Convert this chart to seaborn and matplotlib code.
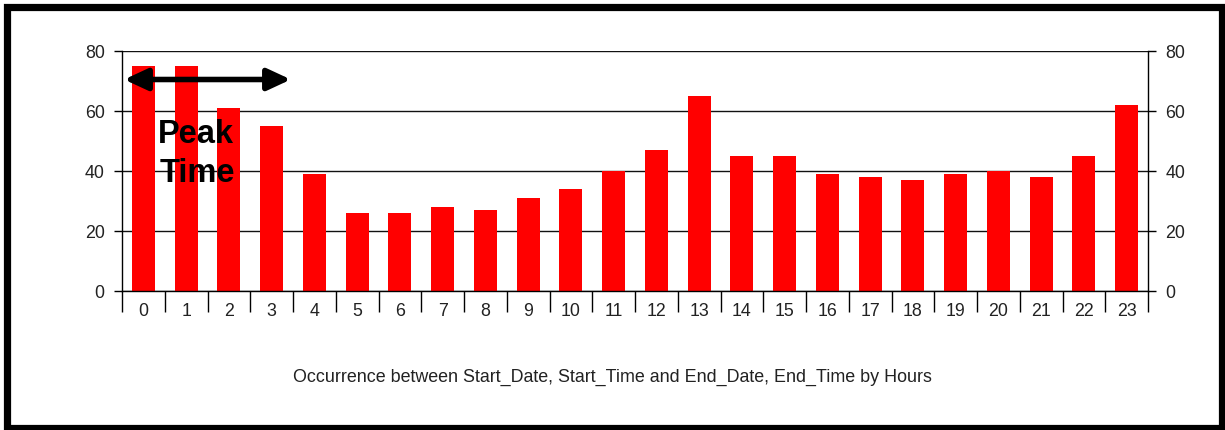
import matplotlib
matplotlib.use("Agg")
import matplotlib.pyplot as plt
from matplotlib.patches import Rectangle
import numpy as np
import pandas as pd
import seaborn as sns

# Occurrences per hour of day
hours = [str(h) for h in range(24)]
counts = [75, 75, 61, 55, 39, 26, 26, 28, 27, 31, 34, 40,
          47, 65, 45, 45, 39, 38, 37, 39, 40, 38, 45, 62]
y_ticks = [0, 20, 40, 60, 80]
x_title = "Occurrence between Start_Date, Start_Time and End_Date, End_Time by Hours"
note_lines = ["Peak", "Time"]

sns.set_style("white")
plt.rcParams["font.family"] = ["Liberation Sans", "DejaVu Sans"]

W, H = 1225, 430
fig = plt.figure(figsize=(W / 100, H / 100), dpi=100)
ax = fig.add_axes([122 / W, (H - 291) / H, (1148 - 122) / W, 240 / H])

df = pd.DataFrame({"hour": hours, "count": counts})
sns.barplot(data=df, x="hour", y="count", color="#FF0000", saturation=1,
            width=0.54, ax=ax, zorder=3)
for p in ax.patches:
    p.set_edgecolor("none")

ax.set_xlim(-0.5, 23.5)
ax.set_ylim(0, 80)
ax.set_yticks(y_ticks)
ax.set_xlabel("")
ax.set_ylabel("")

# horizontal gridlines
ax.yaxis.grid(True, color="#111111", linewidth=1.0, zorder=1)
ax.set_axisbelow(True)

for side in ["left", "right"]:
    ax.spines[side].set_visible(True)
    ax.spines[side].set_color("black")
    ax.spines[side].set_linewidth(1.0)
    ax.spines[side].set_zorder(4)
ax.spines["top"].set_visible(False)
ax.spines["bottom"].set_color("black")
ax.spines["bottom"].set_linewidth(1.0)
ax.spines["bottom"].set_zorder(4)

# y ticks on both sides
ax.tick_params(axis="y", which="major", left=True, right=True,
               labelleft=True, labelright=True, length=5.5, width=1.0,
               color="black", pad=7, labelsize=12.8, labelcolor="#222222")

# category separators below the axis; labels centred between them
ax.set_xticks(np.arange(-0.5, 24, 1), minor=True)
ax.tick_params(axis="x", which="minor", bottom=True, length=15, width=1.0,
               color="black")
ax.tick_params(axis="x", which="major", bottom=True, length=0, pad=9,
               labelsize=12.8, labelcolor="#222222")

# double-headed arrow marking the peak window
ax.annotate("", xy=(3.45, 70.5), xytext=(-0.45, 70.5),
            arrowprops=dict(arrowstyle="<|-|>,head_length=1.4,head_width=0.65",
                            color="black", lw=4.0, shrinkA=0, shrinkB=0),
            zorder=6)
ax.text(0.34, 49.3, note_lines[0], fontsize=23.5, fontweight="bold",
        ha="left", va="baseline", color="black", zorder=6)
ax.text(0.38, 36.3, note_lines[1], fontsize=23.5, fontweight="bold",
        ha="left", va="baseline", color="black", zorder=6)

fig.text((293 + 932) / 2 / W, 1 - 377 / H, x_title, ha="center", va="center",
         fontsize=12.9, color="#222222")

# outer frame
fig.patches.append(Rectangle((6.5 / W, 2 / H), (1221.5 - 6.5) / W, (428 - 7) / H,
                             transform=fig.transFigure, fill=False,
                             edgecolor="black", linewidth=5.2, zorder=10))

fig.savefig("out.png", dpi=100)
